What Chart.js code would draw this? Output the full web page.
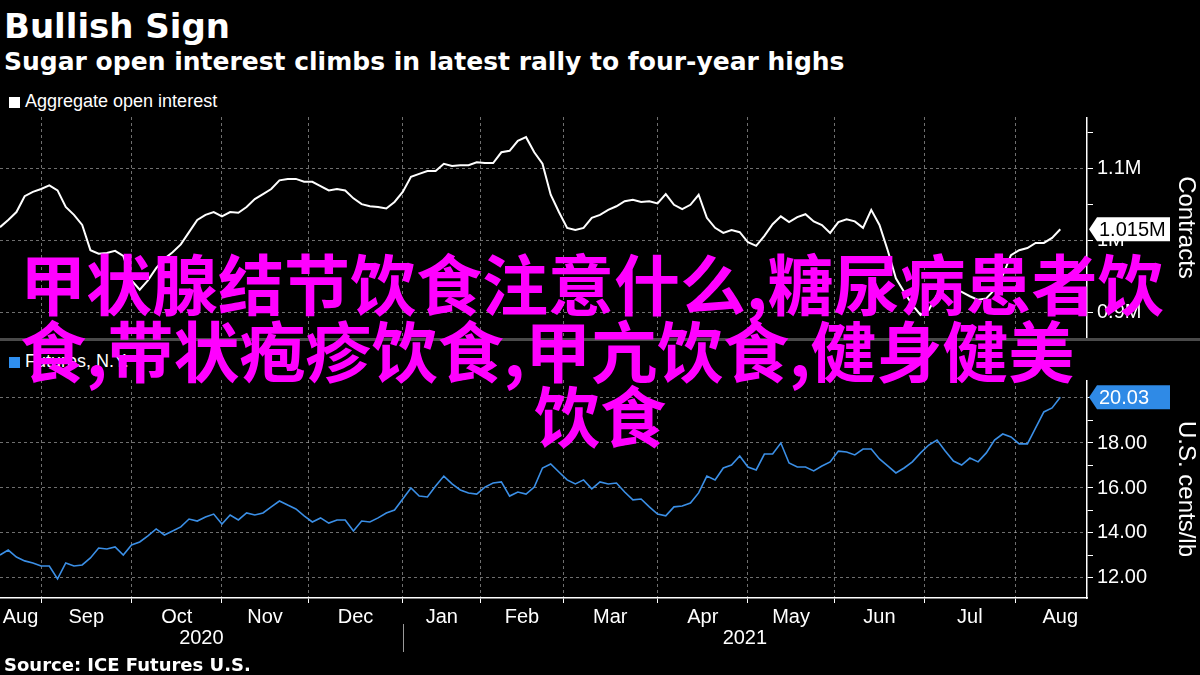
<!DOCTYPE html>
<html>
<head>
<meta charset="utf-8">
<script src="https://cdn.jsdelivr.net/npm/chart.js@4.4.1/dist/chart.umd.min.js"></script>
<style>
  html, body { margin: 0; padding: 0; background: #000; }
  #wrap { position: relative; width: 1200px; height: 675px; background: #000; overflow: hidden;
          color: #fff; font-family: "Liberation Sans", Arial, sans-serif; }
  .abs { position: absolute; white-space: nowrap; line-height: 1; }
  .title { left: 4px; top: 6px; font: bold 34px "DejaVu Sans"; }
  .subtitle { left: 4px; top: 47px; font: bold 25px "DejaVu Sans"; }
  .legend { left: 9px; font-size: 18px; }
  .legend i { display: inline-block; width: 11px; height: 11px; margin-right: 5px; vertical-align: -1px; }
  .source { left: 4px; top: 654px; font: bold 18px "DejaVu Sans"; }
  .sep { left: 0; top: 338px; width: 1200px; height: 3px; background: #4a4a4a; }
  .wm { position: absolute; white-space: nowrap; line-height: 66px; color: #ff00ff;
        font: bold 66px "Noto Sans CJK SC"; z-index: 10; }
  canvas { position: absolute; left: 0; }
</style>
</head>
<body>
<div id="wrap">
  <div class="abs title">Bullish Sign</div>
  <div class="abs subtitle">Sugar open interest climbs in latest rally to four-year highs</div>
  <div class="abs legend" style="top:92px"><i style="background:#fff"></i>Aggregate open interest</div>
  <canvas id="oi" width="1200" height="221" style="top:117px"></canvas>
  <div class="abs sep"></div>
  <div class="abs legend" style="top:352px"><i style="background:#2f8ff0"></i>Futures, N.Y.</div>
  <canvas id="fut" width="1200" height="275" style="top:380px"></canvas>
  <div class="abs source">Source: ICE Futures U.S.</div>

  <div class="wm" style="left:20px; top:233px">甲状腺结节饮食注意什么,糖尿病患者饮</div>
  <div class="wm" style="left:20px; top:300px">食,带状疱疹饮食,甲亢饮食,健身健美</div>
  <div class="wm" style="left:0; width:1200px; text-align:center; top:365px">饮食</div>
</div>

<script>
// x is counted in trading days from the first sample (mid Aug 2020)
const X_STEP = 2;
const X_MAX = 264.5;

const monthNames = ['Aug', 'Sep', 'Oct', 'Nov', 'Dec', 'Jan', 'Feb', 'Mar', 'Apr', 'May', 'Jun', 'Jul', 'Aug'];
const monthEdges = [0, 10, 32, 54, 75, 98, 117, 137, 160, 182, 203, 225, 247, 269];
const yearNames = ['2020', '2021'];
const yearEdges = [0, 98, 264.5];

// aggregate open interest, thousand contracts
const openInterest = [
  1018, 1028, 1039, 1061, 1067, 1071, 1076, 1069, 1046, 1035,
  1021, 986, 981, 982, 985, 978, 944, 931, 944, 961,
  974, 983, 994, 1011, 1028, 1035, 1039, 1033, 1039, 1038,
  1046, 1057, 1064, 1071, 1083, 1085, 1085, 1081, 1081, 1075,
  1069, 1071, 1069, 1058, 1050, 1047, 1046, 1044, 1053, 1067,
  1088, 1092, 1096, 1096, 1106, 1103, 1104, 1104, 1108, 1107,
  1107, 1122, 1124, 1138, 1143, 1122, 1106, 1063, 1039, 1017,
  1014, 1017, 1031, 1035, 1042, 1047, 1054, 1056, 1053, 1054,
  1051, 1064, 1049, 1043, 1049, 1063, 1031, 1017, 1010, 1014,
  1011, 997, 992, 1006, 1022, 1033, 1025, 1032, 1036, 1026,
  1021, 1010, 1025, 1029, 1026, 1017, 1042, 1021, 986, 947,
  928, 910, 896, 903, 924, 935, 932, 928, 922, 917,
  919, 931, 951, 979, 986, 989, 996, 996, 1003, 1015
];

// raw sugar futures, U.S. cents/lb
const futures = [
  13.02, 13.24, 12.93, 12.76, 12.67, 12.53, 12.53, 11.96, 12.67, 12.53,
  12.58, 12.89, 13.33, 13.29, 13.38, 13.02, 13.47, 13.60, 13.87, 14.18,
  13.91, 14.09, 14.27, 14.62, 14.53, 14.71, 14.84, 14.40, 14.80, 14.58,
  14.89, 14.80, 14.89, 15.16, 15.42, 15.24, 15.07, 14.76, 14.49, 14.67,
  14.44, 14.58, 14.58, 14.09, 14.53, 14.49, 14.67, 14.89, 15.02, 15.51,
  16.00, 15.64, 15.60, 16.09, 16.53, 16.18, 15.91, 15.78, 15.73, 16.04,
  16.22, 16.27, 15.64, 15.82, 15.73, 16.04, 16.89, 17.07, 16.71, 16.36,
  16.18, 16.36, 15.96, 16.27, 16.18, 16.22, 15.82, 15.47, 15.51, 15.16,
  14.84, 14.76, 15.16, 15.20, 15.33, 15.78, 16.53, 16.36, 16.89, 17.02,
  17.42, 16.93, 16.80, 17.51, 17.51, 18.00, 17.11, 16.93, 16.93, 16.76,
  16.98, 17.16, 17.64, 17.60, 17.47, 17.73, 17.73, 17.29, 16.98, 16.67,
  16.89, 17.16, 17.56, 17.91, 18.13, 17.64, 17.20, 17.02, 17.33, 17.16,
  17.56, 18.13, 18.40, 18.27, 17.96, 17.96, 18.67, 19.38, 19.56, 20.03
];

const oiTicks = [900, 950, 1000, 1050, 1100, 1150];
const oiLabelled = [900, 1000, 1100];
const futTicks = [12, 13, 14, 15, 16, 17, 18, 19, 20];
const futLabelled = [12, 14, 16, 18, 20];

const GRID = 'rgba(185,185,185,0.6)';
const FONT = 'Liberation Sans';
Chart.defaults.font.family = FONT;
Chart.defaults.color = '#fff';

const innerEdges = monthEdges.filter(e => e > 0 && e < X_MAX);
const monthMids = new Map();
monthNames.forEach((m, i) => monthMids.set((monthEdges[i] + monthEdges[i + 1]) / 2, m));

const toPoints = arr => arr.map((v, i) => ({ x: i * X_STEP, y: v }));

function valueTag(text, fill, textColor) {
  return {
    id: 'valueTag',
    afterDraw(chart) {
      const { ctx, chartArea, scales } = chart;
      const data = chart.data.datasets[0].data;
      const y = scales.y.getPixelForValue(data[data.length - 1].y);
      const x = chartArea.right + 2;
      ctx.save();
      ctx.fillStyle = fill;
      ctx.beginPath();
      ctx.moveTo(x, y);
      ctx.lineTo(x + 8, y - 12);
      ctx.lineTo(x + 81, y - 12);
      ctx.lineTo(x + 81, y + 12);
      ctx.lineTo(x + 8, y + 12);
      ctx.closePath();
      ctx.fill();
      ctx.fillStyle = textColor;
      ctx.font = '20px "' + FONT + '"';
      ctx.textBaseline = 'middle';
      ctx.fillText(text, x + 10, y + 1);
      ctx.restore();
    }
  };
}

const yearLabels = {
  id: 'yearLabels',
  afterDraw(chart) {
    const { ctx } = chart;
    const x = chart.scales.x;
    ctx.save();
    ctx.fillStyle = '#fff';
    ctx.font = '20px "' + FONT + '"';
    ctx.textAlign = 'center';
    ctx.textBaseline = 'middle';
    yearNames.forEach((yr, i) => {
      ctx.fillText(yr, x.getPixelForValue((yearEdges[i] + yearEdges[i + 1]) / 2), 258);
    });
    const sx = Math.round(x.getPixelForValue(yearEdges[1])) + 0.5;
    ctx.strokeStyle = '#9a9a9a';
    ctx.lineWidth = 1;
    ctx.beginPath();
    ctx.moveTo(sx, 244);
    ctx.lineTo(sx, 272);
    ctx.stroke();
    ctx.restore();
  }
};

const baseOptions = {
  responsive: false,
  animation: false,
  layout: { padding: 0 },
  plugins: { legend: { display: false }, tooltip: { enabled: false } }
};

// top panel: open interest
new Chart(document.getElementById('oi'), {
  type: 'line',
  data: { datasets: [{ data: toPoints(openInterest), borderColor: '#fff', borderWidth: 2, pointRadius: 0, tension: 0 }] },
  options: {
    ...baseOptions,
    scales: {
      x: {
        type: 'linear', min: 0, max: X_MAX,
        afterBuildTicks: s => { s.ticks = innerEdges.map(v => ({ value: v })); },
        ticks: { display: false },
        grid: { color: GRID, drawTicks: false },
        border: { display: false, dash: [3, 3] },
        afterFit: s => { s.height = 0; s.paddingLeft = 0; s.paddingRight = 0; }
      },
      y: {
        type: 'linear', position: 'right', min: 864, max: 1171,
        afterBuildTicks: s => { s.ticks = oiTicks.map(v => ({ value: v })); },
        ticks: { color: '#fff', padding: 4, font: { size: 20 },
                 callback: v => oiLabelled.includes(v) ? (v / 1000) + 'M' : '' },
        grid: { color: c => oiLabelled.includes(c.tick && c.tick.value) ? GRID : 'transparent',
                tickColor: '#fff', tickLength: 6 },
        border: { display: true, color: '#fff', width: 1.5, dash: [3, 3] },
        title: { display: true, text: 'Contracts', color: '#fff', font: { size: 24 }, padding: 0 },
        afterFit: s => { s.width = 113; s.paddingTop = 0; s.paddingBottom = 0; }
      }
    }
  },
  plugins: [valueTag((openInterest[openInterest.length - 1] / 1000).toFixed(3) + 'M', '#fff', '#000')]
});

// bottom panel: futures price
new Chart(document.getElementById('fut'), {
  type: 'line',
  data: { datasets: [{ data: toPoints(futures), borderColor: '#3b8fe6', borderWidth: 1.6, pointRadius: 0, tension: 0 }] },
  options: {
    ...baseOptions,
    scales: {
      x: {
        type: 'linear', min: 0, max: X_MAX,
        afterBuildTicks: s => {
          const vals = innerEdges.concat([...monthMids.keys()]).sort((a, b) => a - b);
          s.ticks = vals.map(v => ({ value: v }));
        },
        ticks: { color: '#fff', font: { size: 20 }, padding: 2, autoSkip: false, maxRotation: 0,
                 callback: v => monthMids.get(v) || '' },
        grid: { color: c => innerEdges.includes(c.tick && c.tick.value) ? GRID : 'transparent',
                tickColor: c => innerEdges.includes(c.tick && c.tick.value) ? '#fff' : 'transparent',
                tickLength: 5 },
        border: { display: true, color: '#fff', width: 1.5, dash: [3, 3] },
        afterFit: s => { s.height = 57; s.paddingLeft = 0; s.paddingRight = 0; }
      },
      y: {
        type: 'linear', position: 'right', min: 11.11, max: 20.8,
        afterBuildTicks: s => { s.ticks = futTicks.map(v => ({ value: v })); },
        ticks: { color: '#fff', padding: 4, font: { size: 20 },
                 callback: v => futLabelled.includes(v) ? v.toFixed(2) : '' },
        grid: { color: c => futLabelled.includes(c.tick && c.tick.value) ? GRID : 'transparent',
                tickColor: '#fff', tickLength: 6 },
        border: { display: true, color: '#fff', width: 1.5, dash: [3, 3] },
        title: { display: true, text: 'U.S. cents/lb', color: '#fff', font: { size: 24 }, padding: 0 },
        afterFit: s => { s.width = 113; s.paddingTop = 0; s.paddingBottom = 0; }
      }
    }
  },
  plugins: [valueTag(futures[futures.length - 1].toFixed(2), '#2f8ae6', '#fff'), yearLabels]
});
</script>
</body>
</html>
